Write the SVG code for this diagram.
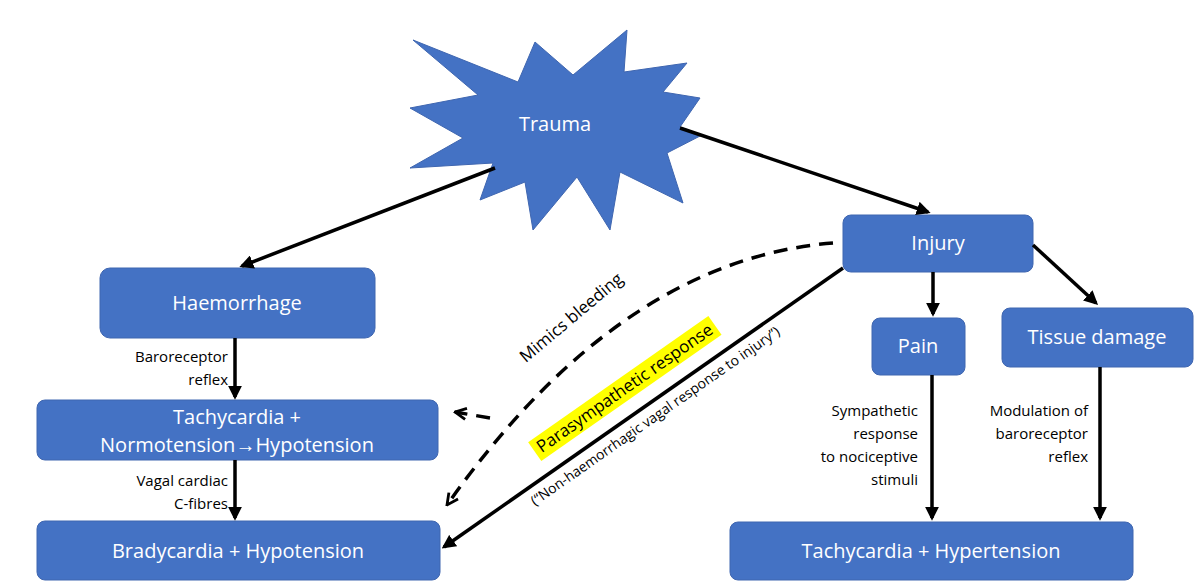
<svg xmlns="http://www.w3.org/2000/svg" width="1200" height="587" viewBox="0 0 1200 587">
<style>
.b{fill:#4472c4;stroke:#3f66b0;stroke-width:1}
.t{fill:#fff;font-family:"Open Sans","Liberation Sans",sans-serif;font-size:20px;text-anchor:middle}
.l{fill:#000;font-family:"Open Sans","Liberation Sans",sans-serif;font-size:15px;text-anchor:end}
.c{stroke:#000;stroke-width:3.5;fill:none}
.d{stroke:#000;stroke-width:3.5;fill:none;stroke-dasharray:14 9}
</style>
<defs>
<marker id="a" viewBox="0 0 10 10" refX="8" refY="5" markerWidth="4" markerHeight="4" orient="auto"><path d="M0,0L10,5L0,10z" fill="#000"/></marker>
<marker id="o" viewBox="0 0 10 10" refX="9" refY="5" markerWidth="4" markerHeight="4" orient="auto"><path d="M1,1L9,5L1,9" fill="none" stroke="#000" stroke-width="2"/></marker>
</defs>
<g id="trauma"><polygon class="b" points="413,40 518,82 535,42 573,75 627,30 624,72 687,63 663,92 700,98 680,127 702,135 667,153 683,203 620,172 610,230 577,177 533,230 525,182 480,200 493,163 410,168 463,138 410,108 478,95"/><text class="t" x="555" y="131">Trauma</text></g>
<g id="haemorrhage"><rect class="b" x="100" y="268" width="275" height="70" rx="10"/><text class="t" x="237" y="310">Haemorrhage</text></g>
<g id="tachy1"><rect class="b" x="37" y="400" width="401" height="60" rx="8"/><text class="t" x="237" y="424">Tachycardia +</text><text class="t" x="237" y="452">Normotension→Hypotension</text></g>
<g id="brady"><rect class="b" x="37" y="521" width="403" height="59" rx="8"/><text class="t" x="238" y="558">Bradycardia + Hypotension</text></g>
<g id="injury"><rect class="b" x="843" y="215" width="190" height="57" rx="8"/><text class="t" x="938" y="250">Injury</text></g>
<g id="pain"><rect class="b" x="872" y="318" width="93" height="57" rx="8"/><text class="t" x="918" y="353">Pain</text></g>
<g id="tissue"><rect class="b" x="1002" y="308" width="191" height="59" rx="8"/><text class="t" x="1097" y="344">Tissue damage</text></g>
<g id="tachy2"><rect class="b" x="730" y="522" width="403" height="58" rx="8"/><text class="t" x="931" y="558">Tachycardia + Hypertension</text></g>
<g id="connectors">
<line class="c" x1="495" y1="168" x2="242" y2="266" marker-end="url(#a)"/>
<line class="c" x1="680" y1="128" x2="928" y2="212" marker-end="url(#a)"/>
<line class="c" x1="235" y1="338" x2="235" y2="397" marker-end="url(#a)"/>
<line class="c" x1="235" y1="460" x2="235" y2="518" marker-end="url(#a)"/>
<line class="c" x1="933" y1="272" x2="933" y2="314" marker-end="url(#a)"/>
<line class="c" x1="1033" y1="245" x2="1096" y2="303" marker-end="url(#a)"/>
<line class="c" x1="932" y1="375" x2="932" y2="518" marker-end="url(#a)"/>
<line class="c" x1="1100" y1="367" x2="1100" y2="518" marker-end="url(#a)"/>
<line class="c" x1="843" y1="268" x2="444" y2="547" marker-end="url(#a)"/>
<path class="d" d="M833,243 Q620,260 447,505" marker-end="url(#o)"/>
<path class="d" d="M490,418 L455,412" marker-end="url(#o)"/>
</g>
<g id="labels">
<text class="l" x="228" y="362">Baroreceptor</text><text class="l" x="228" y="385">reflex</text>
<text class="l" x="228" y="486">Vagal cardiac</text><text class="l" x="228" y="509">C-fibres</text>
<text class="l" x="918" y="416">Sympathetic</text><text class="l" x="918" y="439">response</text><text class="l" x="918" y="462">to nociceptive</text><text class="l" x="918" y="485">stimuli</text>
<text class="l" x="1088" y="416">Modulation of</text><text class="l" x="1088" y="439">baroreceptor</text><text class="l" x="1088" y="462">reflex</text>
<g transform="translate(575,322) rotate(-40)"><text x="0" y="0" font-family="Open Sans,Liberation Sans,sans-serif" font-size="17" text-anchor="middle">Mimics bleeding</text></g>
<g transform="translate(628,393) rotate(-35)"><rect x="-110" y="-17" width="220" height="23" fill="#ffff00"/><text x="0" y="0" font-family="Open Sans,Liberation Sans,sans-serif" font-size="17" text-anchor="middle">Parasympathetic response</text></g>
<g transform="translate(658,420) rotate(-35)"><text x="0" y="0" font-family="Open Sans,Liberation Sans,sans-serif" font-size="14" text-anchor="middle">(“Non-haemorrhagic vagal response to injury”)</text></g>
</g>
</svg>
